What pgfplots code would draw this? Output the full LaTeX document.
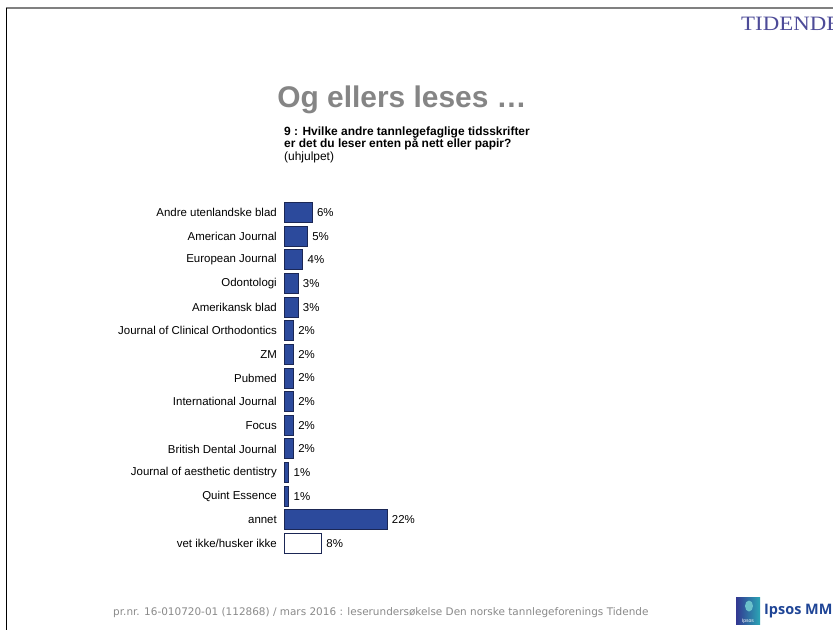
\documentclass[border=0pt]{standalone}
\usepackage{pgfplots}
\pgfplotsset{compat=1.18}
\usepackage{fontspec}
\setmainfont{Liberation Sans}
\newfontfamily\footfont{DejaVu Sans}
\newfontfamily\tidfont{Liberation Serif}
\newfontfamily\ipsosfont{Open Sans}

\definecolor{barblue}{HTML}{2C4A9C}
\definecolor{baredge}{HTML}{1B2755}
\definecolor{titlegray}{HTML}{858585}
\definecolor{footgray}{HTML}{8A8A8A}
\definecolor{tidende}{HTML}{4D4B98}
\definecolor{ipsosblue}{HTML}{1F4596}
\definecolor{ipsosteal}{HTML}{2BA6B5}

\begin{document}
\begin{tikzpicture}
\useasboundingbox (0,0) rectangle (833bp,-630bp);
\fill[white] (0,0) rectangle (833bp,-630bp);

% frame
\draw[gray, line width=1.6bp] (6bp,-8bp) -- (833bp,-8bp);
\draw[black, line width=1bp] (6.5bp,-8bp) -- (6.5bp,-630bp);

% header / titles
\node[anchor=base west, inner sep=0pt, text=tidende, font=\tidfont\fontsize{20.5}{24}\selectfont, xscale=1.12]
  at (741bp,-30bp) {TIDENDE};
\node[anchor=base, inner sep=0pt, text=titlegray, font=\fontsize{30}{36}\selectfont\bfseries]
  at (402bp,-107bp) {Og ellers leses \ldots};
\node[anchor=base west, inner sep=0pt, font=\fontsize{12}{12.5}\selectfont\bfseries]
  at (284bp,-135bp) {9 : Hvilke andre tannlegefaglige tidsskrifter};
\node[anchor=base west, inner sep=0pt, font=\fontsize{12}{12.5}\selectfont\bfseries]
  at (284bp,-147.5bp) {er det du leser enten på nett eller papir?};
\node[anchor=base west, inner sep=0pt, font=\fontsize{12}{12.5}\selectfont]
  at (284bp,-160bp) {(uhjulpet)};

\begin{axis}[
    at={(284bp,-200.7bp)}, anchor=north west,
    scale only axis, width=140.4bp, height=354.6bp,
    xbar, bar width=20bp,
    xmin=0, xmax=30, ymin=-0.5, ymax=14.5, y dir=reverse,
    axis line style={draw=none},
    xtick=\empty,
    ytick={0,...,14},
    major tick length=0pt,
    ytick style={draw=none},
    yticklabels={Andre utenlandske blad, American Journal, European Journal, Odontologi,
      Amerikansk blad, Journal of Clinical Orthodontics, ZM, Pubmed, International Journal,
      Focus, British Dental Journal, Journal of aesthetic dentistry, Quint Essence, annet,
      vet ikke/husker ikke},
    yticklabel style={anchor=east, inner sep=0pt, xshift=-7bp, font=\fontsize{11.5}{12}\selectfont},
    /pgf/number format/assume math mode=true,
    point meta=x,
    nodes near coords={\pgfmathprintnumber{\pgfplotspointmeta}\%},
    nodes near coords style={anchor=west, inner sep=0pt, xshift=4.5bp, font=\fontsize{11.5}{12}\selectfont},
    clip=false,
]
\addplot[fill=barblue, draw=baredge, line width=0.9bp, bar shift=0pt]
  coordinates {(6,0) (5,1) (4,2) (3,3) (3,4) (2,5) (2,6) (2,7) (2,8) (2,9) (2,10) (1,11) (1,12) (22,13)};
\addplot[fill=white, draw=baredge, line width=0.9bp, bar shift=0pt]
  coordinates {(8,14)};
\end{axis}

% footer
\node[anchor=base west, inner sep=0pt, text=footgray, font=\footfont\fontsize{10.5}{12}\selectfont]
  at (113bp,-615bp) {pr.nr. 16-010720-01 (112868) / mars 2016 : leserundersøkelse Den norske tannlegeforenings Tidende};

% Ipsos logo
\shade[left color=ipsosblue!80!violet, right color=ipsosteal] (736bp,-597bp) rectangle (760bp,-624bp);
\fill[ipsosteal!70!white] (749bp,-606bp) ellipse (4bp and 5.5bp);
\node[anchor=base, inner sep=0pt, text=white, font=\fontsize{5}{6}\selectfont] at (748bp,-622bp) {Ipsos};
\node[anchor=base west, inner sep=0pt, text=ipsosblue, font=\ipsosfont\fontsize{14.5}{16}\selectfont\bfseries]
  at (764bp,-614bp) {Ipsos MM};
\end{tikzpicture}
\end{document}
